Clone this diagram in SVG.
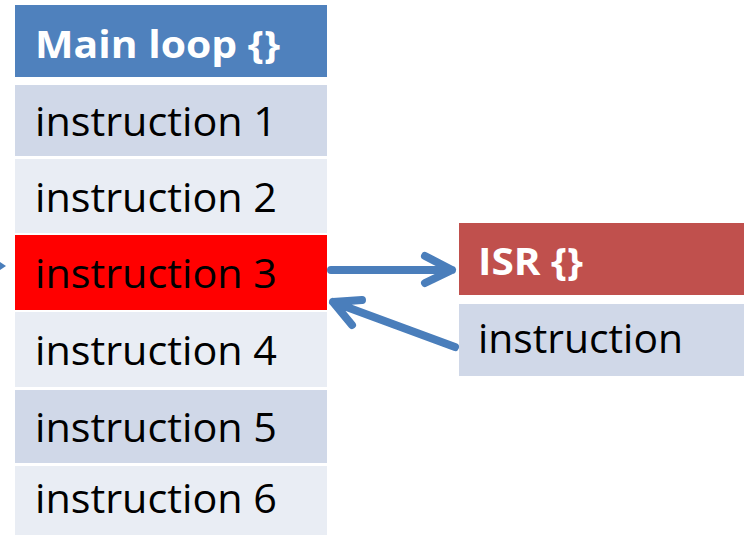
<svg xmlns="http://www.w3.org/2000/svg" width="744" height="535" viewBox="0 0 744 535">
<style>
.t{font-family:"Open Sans","Liberation Sans",sans-serif;font-size:41px;fill:#000}
.h{font-family:"Open Sans","Liberation Sans",sans-serif;font-size:37px;font-weight:bold;fill:#fff}
.dk{fill:#D0D8E8}
.lt{fill:#E9EDF4}
.ar{fill:none;stroke:#4A7EBB;stroke-width:8;stroke-linecap:round;stroke-linejoin:round}
</style>
<rect width="744" height="535" fill="#fff"/>
<g id="main-loop">
<rect x="15" y="5" width="312" height="72" fill="#4F81BD"/>
<text class="h" x="35" y="58" textLength="245" lengthAdjust="spacingAndGlyphs">Main loop {}</text>
</g>
<g id="instr1">
<rect class="dk" x="15" y="85" width="312" height="71"/>
<text class="t" x="35" y="136" textLength="242" lengthAdjust="spacingAndGlyphs">instruction 1</text>
</g>
<g id="instr2">
<rect class="lt" x="15" y="159" width="312" height="74"/>
<text class="t" x="35" y="212" textLength="242" lengthAdjust="spacingAndGlyphs">instruction 2</text>
</g>
<g id="instr3">
<rect x="15" y="235" width="312" height="75" fill="#FF0000"/>
<text class="t" x="35" y="288" textLength="242" lengthAdjust="spacingAndGlyphs">instruction 3</text>
</g>
<g id="instr4">
<rect class="lt" x="15" y="312" width="312" height="75"/>
<text class="t" x="35" y="365" textLength="242" lengthAdjust="spacingAndGlyphs">instruction 4</text>
</g>
<g id="instr5">
<rect class="dk" x="15" y="390" width="312" height="73"/>
<text class="t" x="35" y="442" textLength="242" lengthAdjust="spacingAndGlyphs">instruction 5</text>
</g>
<g id="instr6">
<rect class="lt" x="15" y="466" width="312" height="69"/>
<text class="t" x="35" y="513" textLength="242" lengthAdjust="spacingAndGlyphs">instruction 6</text>
</g>
<g id="isr">
<rect x="459" y="223" width="285" height="72" fill="#C0504D"/>
<text class="h" x="478" y="275" textLength="105" lengthAdjust="spacingAndGlyphs">ISR {}</text>
</g>
<g id="isr-instr">
<rect class="dk" x="459" y="304" width="285" height="72"/>
<text class="t" x="478" y="353" textLength="205" lengthAdjust="spacingAndGlyphs">instruction</text>
</g>
<g id="connectors">
<path class="ar" d="M331 270 H452 M425 256 L452 270 L425 283"/>
<path class="ar" d="M455 347 L333 302 M362 300 L333 302 L352 325"/>
<path d="M0 262 L6 266 L0 270 Z" fill="#4A7EBB"/>
</g>
</svg>
